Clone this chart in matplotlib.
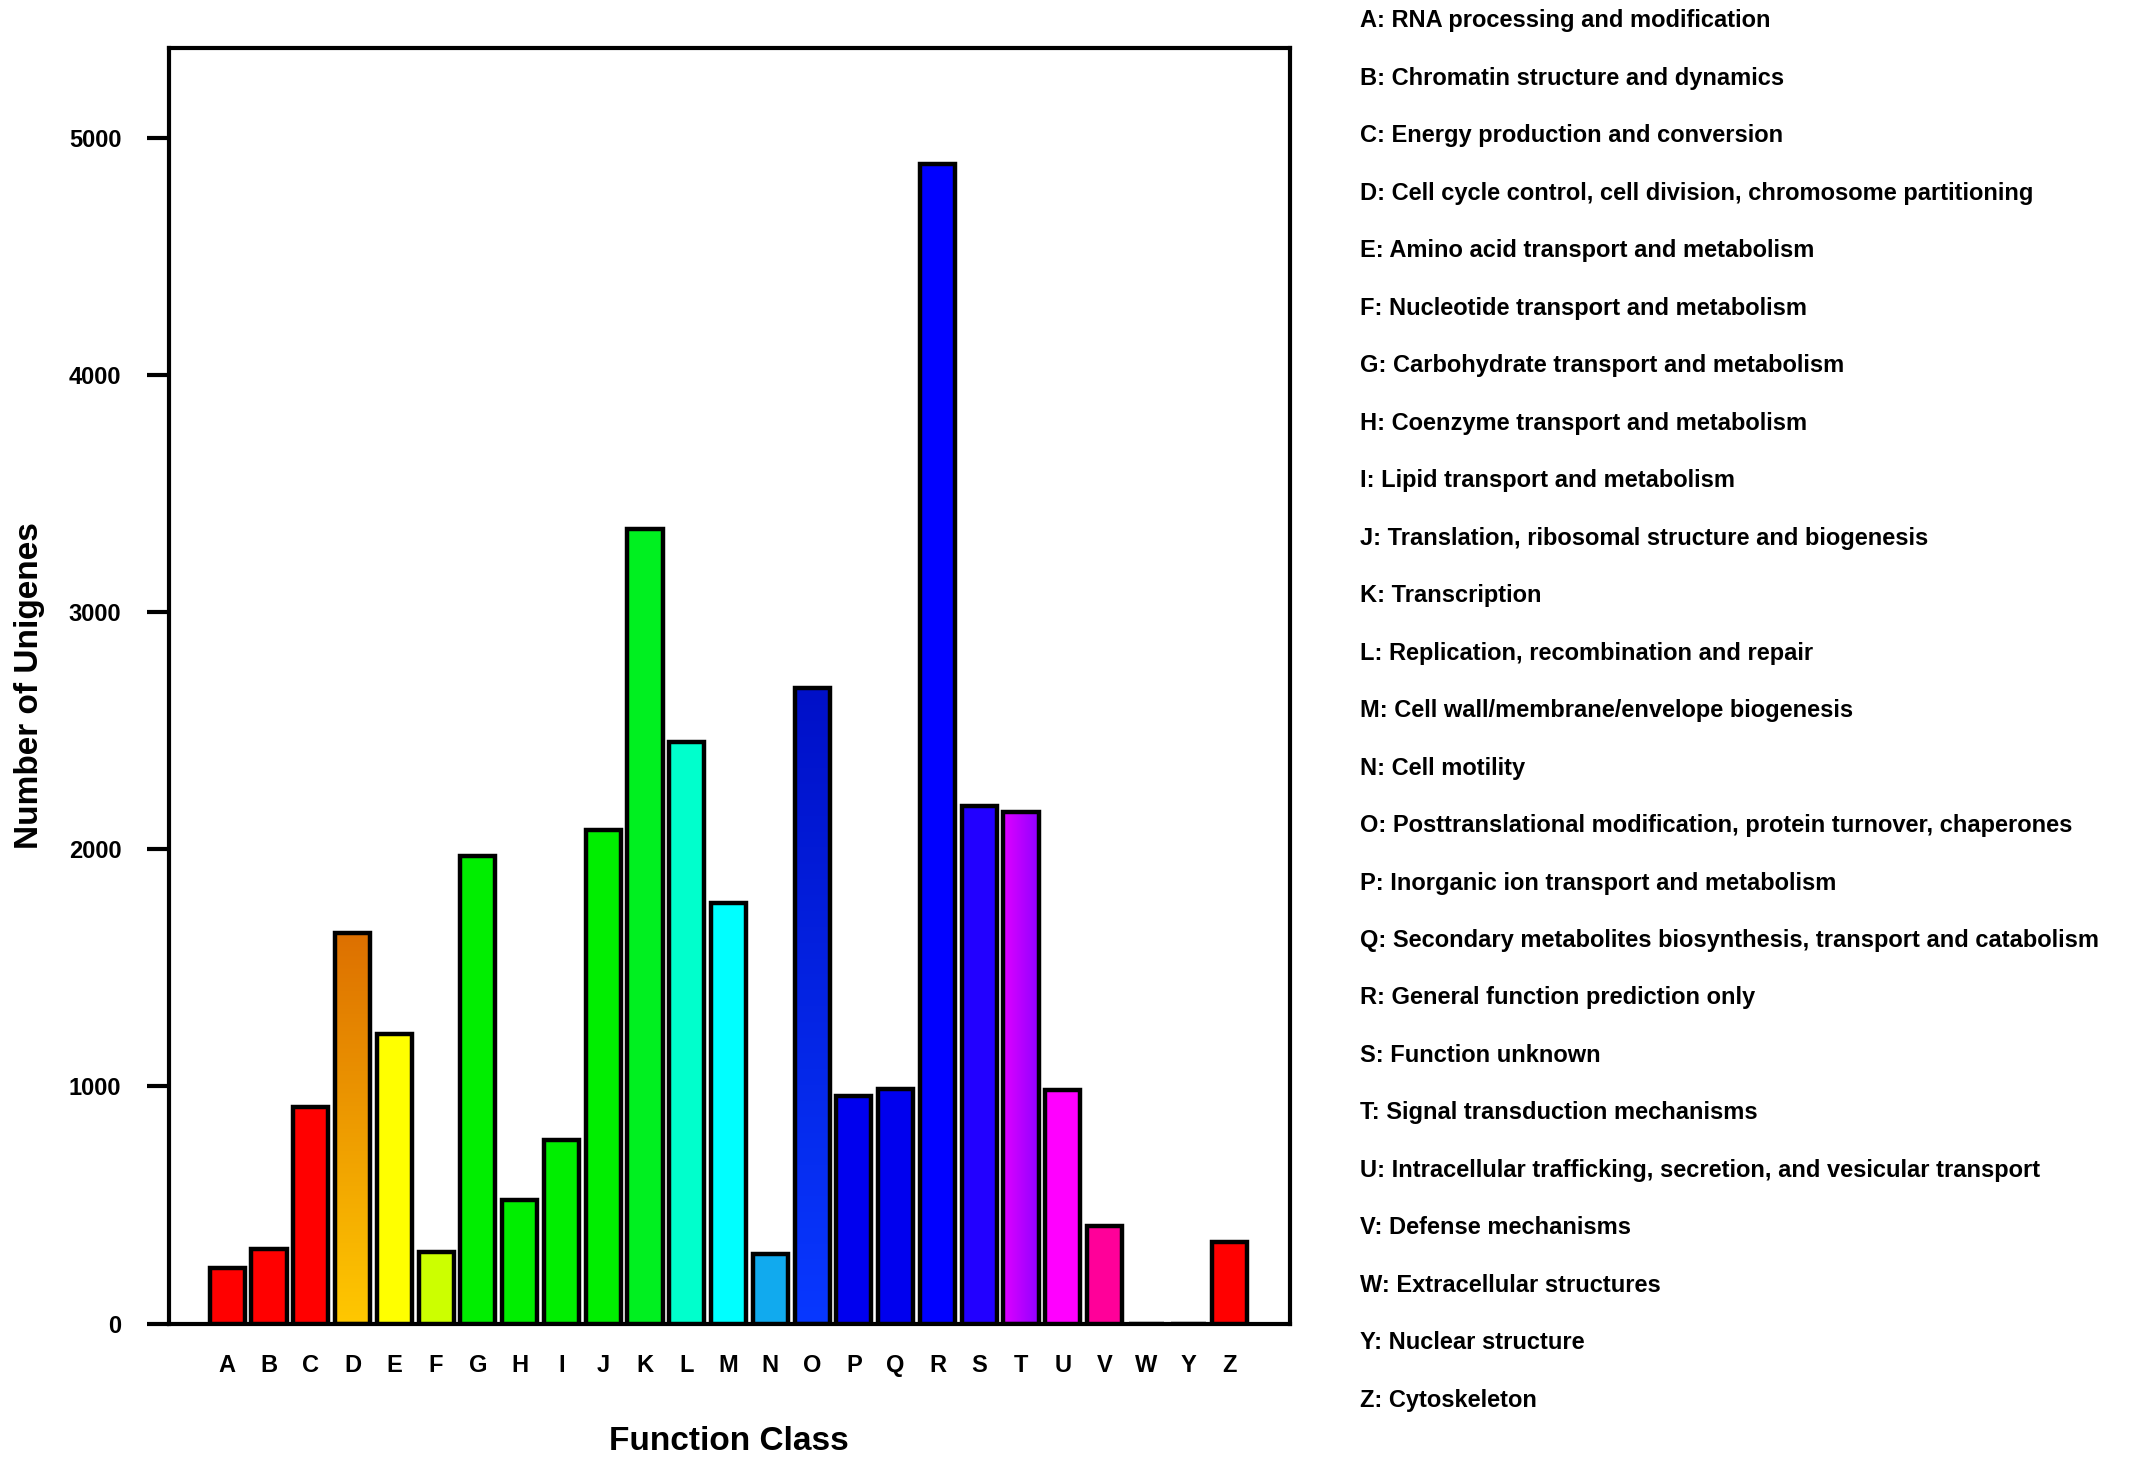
import numpy as np
import matplotlib.pyplot as plt
from matplotlib.colors import LinearSegmentedColormap

classes = list('ABCDEFGHIJKLMNOPQRSTUVWYZ')
counts = [235, 316, 912, 1648, 1222, 303, 1971, 522, 774, 2081, 3349, 2454, 1773,
          292, 2678, 958, 989, 4891, 2184, 2157, 986, 413, 0, 0, 345]
colors = ['#ff0000', '#ff0000', '#ff0000', '#f09000', '#ffff00', '#ccff00', '#00ee00',
          '#00ee00', '#00ee00', '#00ee00', '#00f020', '#00ffcc', '#00ffff', '#11aaee',
          '#0018e0', '#0000ee', '#0000ee', '#0000ff', '#2200ff', '#bb00ff', '#ff00ff',
          '#ff0099', '#ffffff', '#ffffff', '#ff0000']
# bars with a colour gradient: (start, end, direction)
gradients = {
    'D': ('#ffc800', '#dd7000', 'v'),
    'O': ('#0838ff', '#0010c8', 'v'),
    'T': ('#e000ff', '#9000ff', 'h'),
}
descriptions = [
    'RNA processing and modification',
    'Chromatin structure and dynamics',
    'Energy production and conversion',
    'Cell cycle control, cell division, chromosome partitioning',
    'Amino acid transport and metabolism',
    'Nucleotide transport and metabolism',
    'Carbohydrate transport and metabolism',
    'Coenzyme transport and metabolism',
    'Lipid transport and metabolism',
    'Translation, ribosomal structure and biogenesis',
    'Transcription',
    'Replication, recombination and repair',
    'Cell wall/membrane/envelope biogenesis',
    'Cell motility',
    'Posttranslational modification, protein turnover, chaperones',
    'Inorganic ion transport and metabolism',
    'Secondary metabolites biosynthesis, transport and catabolism',
    'General function prediction only',
    'Function unknown',
    'Signal transduction mechanisms',
    'Intracellular trafficking, secretion, and vesicular transport',
    'Defense mechanisms',
    'Extracellular structures',
    'Nuclear structure',
    'Cytoskeleton',
]
yticks = [0, 1000, 2000, 3000, 4000, 5000]

plt.rcParams['font.family'] = ['Liberation Sans', 'DejaVu Sans']

fig = plt.figure(figsize=(21.33, 14.70), dpi=100)
ax = fig.add_axes([0.0791, 0.0996, 0.5255, 0.868])

x = np.arange(len(classes))
bars = ax.bar(x, counts, width=0.84, color=colors, edgecolor='black', linewidth=3.2, zorder=3)

# gradient fills clipped to the bar shapes
for bar, cls in zip(bars, classes):
    if cls not in gradients:
        continue
    c0, c1, d = gradients[cls]
    bar.set_facecolor('none')
    cmap = LinearSegmentedColormap.from_list(cls, [c0, c1])
    grad = np.linspace(0, 1, 256)
    img = grad.reshape(-1, 1) if d == 'v' else grad.reshape(1, -1)
    x0, y0 = bar.get_x(), bar.get_y()
    w, h = bar.get_width(), bar.get_height()
    im = ax.imshow(img, cmap=cmap, extent=[x0, x0 + w, y0, y0 + h], origin='lower',
                   aspect='auto', zorder=2.5)
    im.set_clip_path(bar)

ax.set_xlim(-1.4, len(classes) - 1 + 1.43)
ax.set_ylim(0, 5380)
ax.set_xticks(x)
ax.set_xticklabels(classes, fontsize=17, fontweight='bold')
ax.set_yticks(yticks)
ax.set_yticklabels([str(v) for v in yticks], fontsize=17, fontweight='bold')
ax.tick_params(axis='x', length=0, pad=22)
ax.tick_params(axis='y', length=16, width=3, pad=18)
for s in ax.spines.values():
    s.set_linewidth(3)

ax.set_xlabel('Function Class', fontsize=24, fontweight='bold')
ax.xaxis.set_label_coords(0.5, -0.080)
ax.set_ylabel('Number of Unigenes', fontsize=24, fontweight='bold')
ax.yaxis.set_label_coords(-0.110, 0.5)

# category descriptions on the right
for i, (cls, desc) in enumerate(zip(classes, descriptions)):
    ypix = 21 + 57.47 * i
    fig.text(0.6376, 1 - ypix / 1470, f'{cls}: {desc}', fontsize=17,
             fontweight='bold', ha='left', va='center')

plt.savefig('out.png', dpi=100)
